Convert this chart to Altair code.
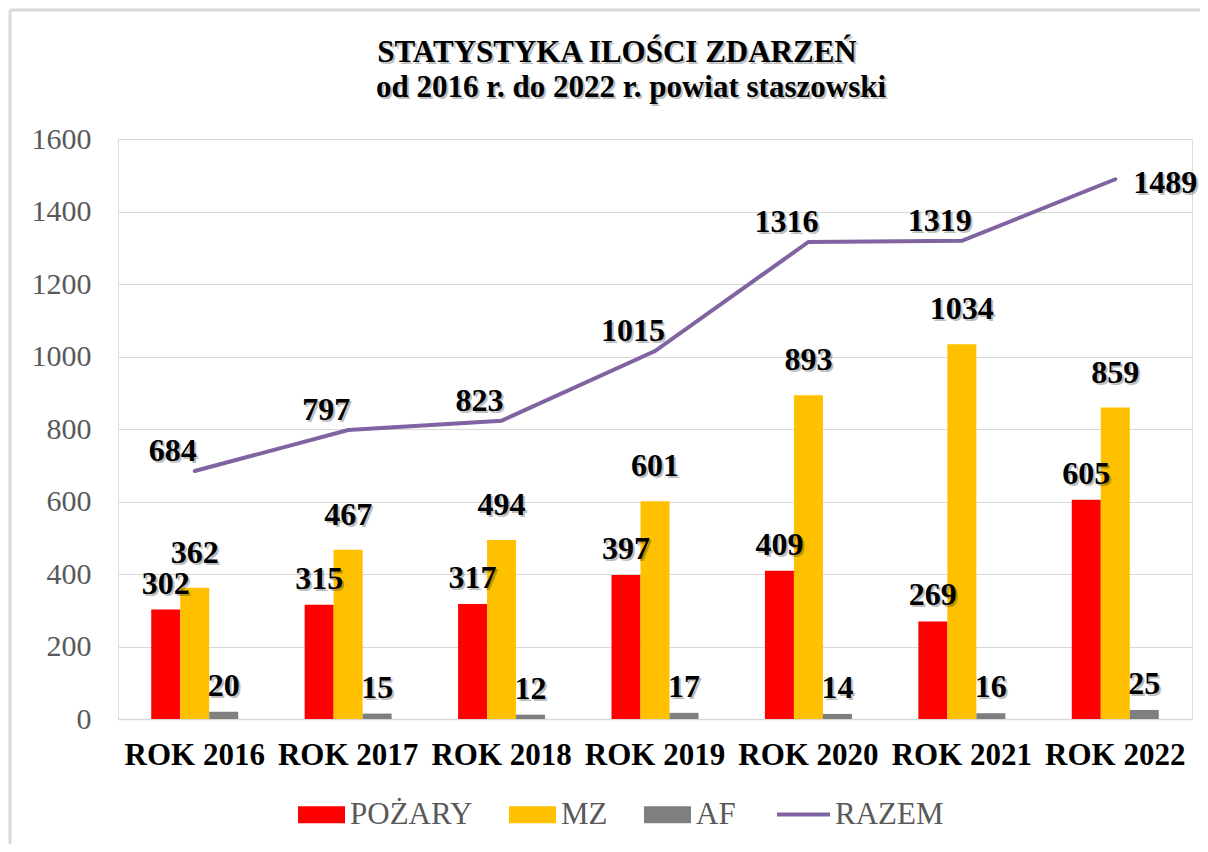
import altair as alt
import pandas as pd

# ---- data ----
lata = ["ROK 2016", "ROK 2017", "ROK 2018", "ROK 2019", "ROK 2020", "ROK 2021", "ROK 2022"]
pozary = [302, 315, 317, 397, 409, 269, 605]
mz = [362, 467, 494, 601, 893, 1034, 859]
af = [20, 15, 12, 17, 14, 16, 25]
razem = [684, 797, 823, 1015, 1316, 1319, 1489]
serie = ["POŻARY", "MZ", "AF"]
kolory = ["#FF0000", "#FFC000", "#7F7F7F"]
y_ticks = [0, 200, 400, 600, 800, 1000, 1200, 1400, 1600]
tytul = ["STATYSTYKA ILOŚCI ZDARZEŃ", "od 2016 r. do 2022 r. powiat staszowski"]

rows = []
for name, vals in zip(serie, [pozary, mz, af]):
    for r, v in zip(lata, vals):
        rows.append({"rok": r, "seria": name, "wartosc": v})
bars_df = pd.DataFrame(rows)
line_df = pd.DataFrame({"rok": lata, "wartosc": razem, "seria": ["RAZEM"] * len(lata)})

FONT = "Liberation Serif"

x_scale = alt.Scale(domain=lata, paddingInner=0.433, paddingOuter=0.2165)
y_scale = alt.Scale(domain=[0, 1600], nice=False)

x_axis = alt.Axis(title=None, labelAngle=0, labelFont=FONT, labelFontSize=31,
                  labelFontWeight="bold", labelColor="black", ticks=False,
                  domainColor="#D9D9D9", domainWidth=1.5, labelPadding=21, grid=False)
y_axis = alt.Axis(title=None, values=y_ticks, format="d", labelFont=FONT, labelFontSize=30,
                  labelColor="#595959", ticks=False, domain=False, grid=True,
                  gridColor="#D9D9D9", gridWidth=1.2, labelPadding=27)

X = alt.X("rok:N", scale=x_scale, sort=lata, axis=x_axis)
Xc = alt.X("rok:N", scale=x_scale, sort=lata, axis=x_axis, bandPosition=0.5)
Y = alt.Y("wartosc:Q", scale=y_scale, axis=y_axis)
XO = alt.XOffset("seria:N", sort=serie, scale=alt.Scale(domain=serie, paddingInner=0, paddingOuter=0))

bar_legend = alt.Legend(title=None, orient="none", legendX=180, legendY=652,
                        direction="horizontal",
                        symbolType="M-1,-0.36L1,-0.36L1,0.36L-1,0.36Z",
                        symbolSize=47 * 47, symbolStrokeWidth=0,
                        labelFont=FONT, labelFontSize=31, labelColor="#595959",
                        labelOffset=5, columnPadding=36)
line_legend = alt.Legend(title=None, orient="none", legendX=657, legendY=647,
                         direction="horizontal", symbolType="stroke",
                         symbolSize=53 * 53, symbolStrokeWidth=4,
                         labelFont=FONT, labelFontSize=31, labelColor="#595959",
                         labelOffset=3)

bars = alt.Chart(bars_df).mark_bar().encode(
    x=X, xOffset=XO, y=Y,
    color=alt.Color("seria:N", sort=serie,
                    scale=alt.Scale(domain=serie, range=kolory), legend=bar_legend),
)

line = alt.Chart(line_df).mark_line(strokeWidth=4, strokeCap="round").encode(
    x=Xc, y=Y,
    stroke=alt.Stroke("seria:N", scale=alt.Scale(domain=["RAZEM"], range=["#8064A2"]),
                      legend=line_legend),
)


def labels(chart_base, dx, dy, **enc):
    shadow = chart_base.mark_text(font=FONT, fontSize=32, fontWeight="bold",
                                  color="#000000", opacity=0.25, baseline="middle",
                                  dx=dx + 2, dy=dy + 2).encode(**enc)
    main = chart_base.mark_text(font=FONT, fontSize=32, fontWeight="bold",
                                color="#000000", baseline="middle",
                                dx=dx, dy=dy).encode(**enc)
    return [shadow, main]


bar_labels = []
for name, dy in zip(serie, [-26, -35, -26]):
    bar_labels += labels(alt.Chart(bars_df).transform_filter(alt.datum.seria == name), 0, dy,
                         x=Xc, xOffset=XO, y=Y, text=alt.Text("wartosc:Q"))

last = lata[-1]
line_labels = labels(alt.Chart(line_df).transform_filter(alt.datum.rok != last), -22, -20,
                     x=Xc, y=Y, text=alt.Text("wartosc:Q"))
line_labels_last = labels(alt.Chart(line_df).transform_filter(alt.datum.rok == last), 50, 4,
                          x=Xc, y=Y, text=alt.Text("wartosc:Q"))

frame_df = pd.DataFrame({"a": [0]})


def title_line(text, x, y):
    shadow = alt.Chart(frame_df).mark_text(
        text=text, font=FONT, fontSize=31, fontWeight="bold", color="#000000",
        opacity=0.25, align="center", baseline="alphabetic", dx=2, dy=2
    ).encode(x=alt.value(x), y=alt.value(y))
    main = alt.Chart(frame_df).mark_text(
        text=text, font=FONT, fontSize=31, fontWeight="bold", color="#000000",
        align="center", baseline="alphabetic"
    ).encode(x=alt.value(x), y=alt.value(y))
    return [shadow, main]


titles = title_line(tytul[0], 499, -77) + title_line(tytul[1], 513, -42)

border_top = alt.Chart(frame_df).mark_rule(color="#D9D9D9", strokeWidth=3).encode(
    x=alt.value(-108), x2=alt.value(1082), y=alt.value(-129))
border_left = alt.Chart(frame_df).mark_rule(color="#D9D9D9", strokeWidth=3).encode(
    x=alt.value(-108), y=alt.value(-129), y2=alt.value(705))

chart = alt.layer(
    bars, line, *bar_labels, *line_labels, *line_labels_last, *titles,
    border_top, border_left
).resolve_scale(color="independent", stroke="independent").properties(
    width=1074, height=580,
    autosize=alt.AutoSizeParams(type="none"),
    padding={"left": 110, "top": 131, "right": 8, "bottom": 125},
).configure_view(stroke=None).configure(background="white")

chart.save("out.html", embed_options={"renderer": "svg", "actions": False})
